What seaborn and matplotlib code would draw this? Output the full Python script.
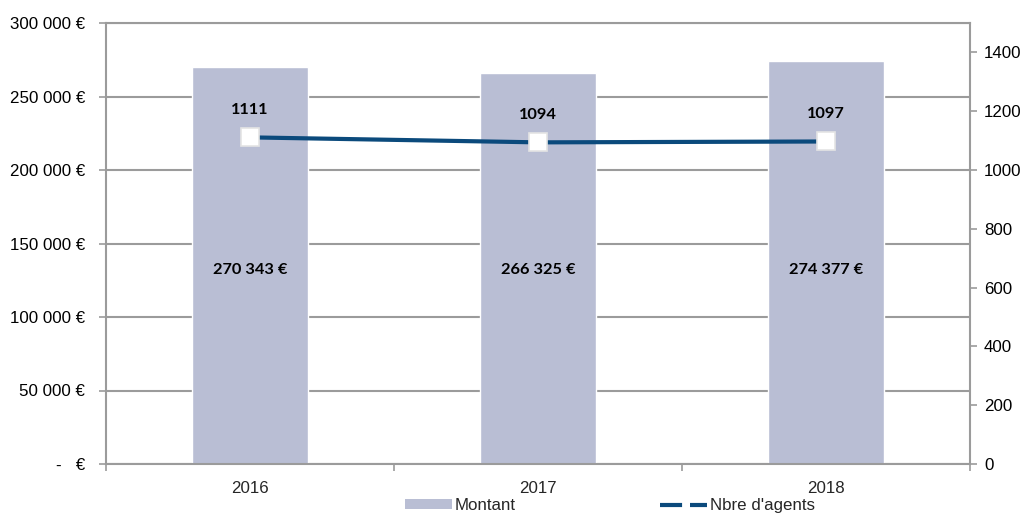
import matplotlib
matplotlib.use("Agg")
import matplotlib.pyplot as plt
import seaborn as sns
import pandas as pd
from matplotlib.lines import Line2D
from matplotlib.patches import Patch
from matplotlib.ticker import FuncFormatter, FixedLocator

# Données
annees = ["2016", "2017", "2018"]
montants = [270343, 266325, 274377]
nb_agents = [1111, 1094, 1097]

sns.set_theme(style="white")
plt.rcParams["font.family"] = ["Liberation Sans", "DejaVu Sans"]

GRIS = "#9b9b9b"
BARRE = "#b9bed4"
LIGNE = "#0b4a7c"
TAILLE = 12.2

df = pd.DataFrame({"annee": annees, "montant": montants, "agents": nb_agents})

fig = plt.figure(figsize=(10.23, 5.16), dpi=100)
ax = fig.add_axes([106 / 1023, 1 - 464 / 516, 864 / 1023, 441 / 516])

# barres (axe gauche)
sns.barplot(data=df, x="annee", y="montant", color=BARRE, width=0.4,
            saturation=1, ax=ax, zorder=2)
ax.set_ylim(0, 300000)
ax.set_xlim(-0.5, 2.5)
ax.set_yticks(range(0, 300001, 50000))


def fmt_euro(v, pos):
    if v == 0:
        return "-   €"
    return f"{int(v):,} €".replace(",", " ")


ax.yaxis.set_major_formatter(FuncFormatter(fmt_euro))
ax.grid(axis="y", color=GRIS, linewidth=1.5, zorder=0)
ax.set_axisbelow(True)
ax.set_xlabel("")
ax.set_ylabel("")

for s in ["left", "bottom", "right", "top"]:
    ax.spines[s].set_color(GRIS)
    ax.spines[s].set_linewidth(1.5)

ax.tick_params(axis="y", which="major", length=5, color=GRIS, width=1.2,
               labelsize=TAILLE, labelcolor="black", left=True, pad=10)
ax.tick_params(axis="x", which="major", length=0, labelsize=TAILLE, pad=12)
ax.xaxis.set_minor_locator(FixedLocator([-0.5, 0.5, 1.5, 2.5]))
ax.tick_params(axis="x", which="minor", length=5, color=GRIS, width=1.2, bottom=True)

# étiquettes des montants
for i, v in enumerate(montants):
    ax.text(i, 132000, f"{v:,} €".replace(",", " "), ha="center", va="center",
            fontsize=11.8, fontweight="bold", family=["Lato", "DejaVu Sans"],
            color="black", zorder=5)

# ligne (axe droit)
ax2 = ax.twinx()
sns.lineplot(x=[0, 1, 2], y=nb_agents, ax=ax2, color=LIGNE, linewidth=3.0,
             marker="s", markersize=13, markerfacecolor="white",
             markeredgecolor="#e4e4e4", markeredgewidth=1.2, zorder=4)
ax2.set_ylim(0, 1500)
ax2.set_yticks(range(0, 1401, 200))
ax2.grid(False)
ax2.tick_params(axis="y", length=5, color=GRIS, width=1.2, labelsize=TAILLE,
                labelcolor="black", right=True, pad=5)
for s in ["left", "bottom", "right", "top"]:
    ax2.spines[s].set_visible(False)
ax2.set_ylabel("")

for i, v in enumerate(nb_agents):
    ax2.text(i, v + 92, str(v), ha="center", va="center", fontsize=11.8,
             fontweight="bold", family=["Lato", "DejaVu Sans"], color="black")

# légende
poignees = [
    Patch(facecolor=BARRE, edgecolor="none", label="Montant"),
    Line2D([0], [0], color=LIGNE, linewidth=3.0, linestyle=(0, (5.3, 1.9)),
           dash_capstyle="butt", label="Nbre d'agents"),
]
fig.legend(handles=poignees, loc="center", bbox_to_anchor=(0.596, 0.02), ncol=2,
           frameon=False, fontsize=TAILLE, handlelength=2.8, handletextpad=0.15,
           columnspacing=8.5, handleheight=0.55)

fig.savefig("out.png", dpi=100)
